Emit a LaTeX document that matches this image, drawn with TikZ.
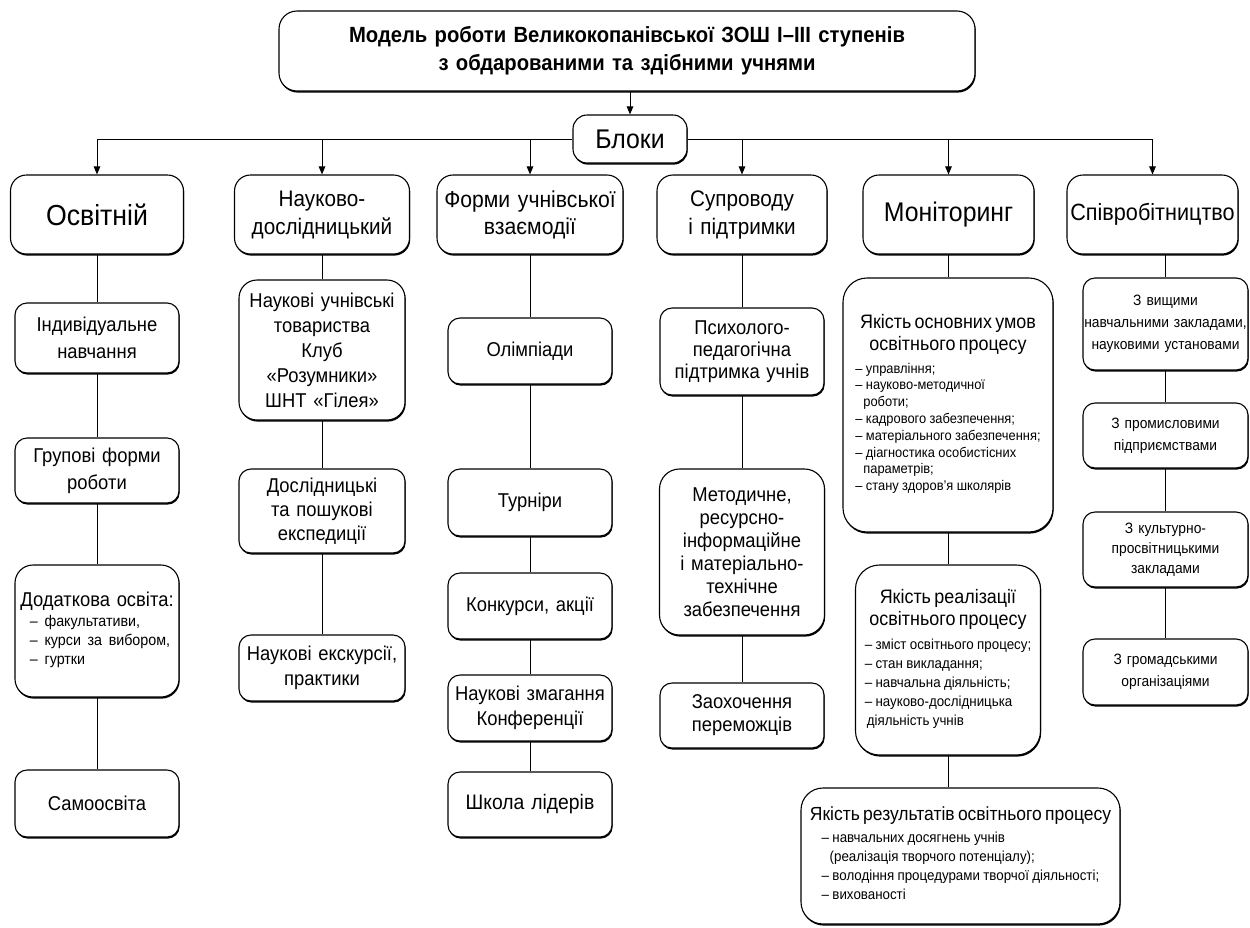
\documentclass[tikz,border=0pt]{standalone}
\usepackage{fontspec}
\setmainfont{Liberation Sans}[FakeStretch=0.92]
\usetikzlibrary{arrows.meta,shadows}
\newcommand\fsz[2]{\fontsize{#1pt}{#2pt}\selectfont}
\begin{document}
\begin{tikzpicture}[x=1pt,y=-1pt,
  box/.style={draw, line width=1.1pt, fill=white, rounded corners=12pt, inner sep=0pt, align=center,
    general shadow={fill=black, shadow xshift=0.7pt, shadow yshift=-1.6pt}},
  topbox/.style={box, rounded corners=16pt, minimum height=79pt},
  sub/.style={box, font=\fsz{20}{24}},
  coop/.style={box, text width=165pt, font=\fsz{15}{22}},
  link/.style={line width=1pt},
  arr/.style={line width=1pt, -{Triangle[length=8pt,width=6.5pt]}},
]
\fill[white] (0,0) rectangle (1250,927);
\useasboundingbox (0,0) rectangle (1250,927);

% title and blocks
\node[box, rounded corners=18pt, text width=696pt, minimum height=80pt, font=\bfseries\fsz{22}{28}] (title) at (627,51)
  {Модель роботи Великокопанівської ЗОШ І–ІІІ ступенів\\з обдарованими та здібними учнями};
\node[box, rounded corners=14pt, text width=114pt, minimum height=48pt, font=\fsz{27}{30}] (blocks) at (630,139) {Блоки};

% level 1
\node[topbox, text width=173pt, font=\fsz{29}{32}] (osv) at (97,214.5) {Освітній};
\node[topbox, text width=175pt, font=\fsz{22.5}{28}] (nauk) at (322,214.5) {Науково-\\дослідницький};
\node[topbox, text width=186pt, font=\fsz{23}{27}] (form) at (530,214.5) {Форми учнівської\\взаємодії};
\node[topbox, text width=170pt, font=\fsz{22.5}{28}] (supr) at (742,214.5) {Супроводу\\і підтримки};
\node[topbox, text width=171pt, font=\fsz{27}{30}] (monit) at (948.5,214.5) {Моніторинг};
\node[topbox, text width=171pt, font=\fsz{23.5}{27}] (spivr) at (1152.5,214.5) {Співробітництво};

% column 1
\node[sub, text width=164pt, minimum height=70pt, font=\fsz{20}{27}] (ind) at (97,338) {Індивідуальне\\навчання};
\node[sub, text width=164pt, minimum height=65pt, font=\fsz{20}{27}] (grup) at (97,470.5) {Групові форми\\роботи};
\node[sub, text width=164pt, minimum height=132pt, rounded corners=18pt] (dod) at (97,631)
  {Додаткова освіта:\\[1pt]{\fsz{15.5}{19}\hspace*{6pt}\begin{tabular}{@{}l@{}}– факультативи,\\– курси за вибором,\\– гуртки\end{tabular}}};
\node[sub, text width=164pt, minimum height=67pt] (samo) at (97,803.5) {Самоосвіта};

% column 2
\node[sub, text width=166pt, minimum height=140pt, rounded corners=18pt, font=\fsz{20}{25}] (nut) at (322,350)
  {Наукові учнівські\\товариства\\Клуб\\«Розумники»\\ШНТ «Гілея»};
\node[sub, text width=166pt, minimum height=84pt] (dosl) at (322,511) {Дослідницькі\\та пошукові\\експедиції};
\node[sub, text width=166pt, minimum height=66pt, font=\fsz{20}{25}] (eksk) at (322,668) {Наукові екскурсії,\\практики};

% column 3
\node[sub, text width=164pt, minimum height=66pt] (olimp) at (530,351) {Олімпіади};
\node[sub, text width=164pt, minimum height=67pt] (turn) at (530,502.5) {Турніри};
\node[sub, text width=164pt, minimum height=66pt] (konk) at (530,606) {Конкурси, акції};
\node[sub, text width=164pt, minimum height=66pt, font=\fsz{20}{25}] (zmag) at (530,708) {Наукові змагання\\Конференції};
\node[sub, text width=164pt, minimum height=65pt, font=\fsz{21}{25}] (shk) at (530,804.5) {Школа лідерів};

% column 4
\node[sub, text width=164pt, minimum height=87pt, font=\fsz{20}{22}] (psych) at (742,351.5) {Психолого-\\педагогічна\\підтримка учнів};
\node[sub, text width=165pt, minimum height=166pt, rounded corners=20pt, font=\fsz{20}{23}] (metod) at (742,552)
  {Методичне,\\ресурсно-\\інформаційне\\і матеріально-\\технічне\\забезпечення};
\node[sub, text width=164pt, minimum height=65pt, font=\fsz{20}{23}] (zaoh) at (742,715.5) {Заохочення\\переможців};

% column 5
\node[box, text width=210pt, minimum height=254pt, rounded corners=24pt] (umov) at (948,405)
  {\fsz{19.5}{22}Якість основних умов\\освітнього процесу\\[6pt]
   {\fsz{14}{16.8}\begin{tabular}{@{}l@{}}– управління;\\– науково-методичної\\\hspace*{8pt}роботи;\\– кадрового забезпечення;\\– матеріального забезпечення;\\– діагностика особистісних\\\hspace*{8pt}параметрів;\\– стану здоров’я школярів\end{tabular}}};
\node[box, text width=185pt, minimum height=190pt, rounded corners=24pt] (real) at (948,660)
  {\fsz{19.5}{22}Якість реалізації\\освітнього процесу\\[6pt]
   {\fsz{14.5}{19}\begin{tabular}{@{}l@{}}– зміст освітнього процесу;\\– стан викладання;\\– навчальна діяльність;\\– науково-дослідницька\\\hspace*{2pt}діяльність учнів\end{tabular}}};
\node[box, text width=319pt, minimum height=136pt, rounded corners=22pt] (rez) at (960.5,856)
  {\fsz{19}{22}Якість результатів освітнього процесу\\[4pt]
   {\fsz{14.5}{19}\begin{tabular}{@{}l@{}}– навчальних досягнень учнів\\\hspace*{8pt}(реалізація творчого потенціалу);\\– володіння процедурами творчої діяльності;\\– вихованості\end{tabular}}};

% column 6
\node[coop, minimum height=92pt] (vyshch) at (1165.5,324) {З вищими\\навчальними закладами,\\науковими установами};
\node[coop, minimum height=65pt] (prom) at (1165.5,435.5) {З промисловими\\підприємствами};
\node[coop, minimum height=75pt, font=\fsz{15}{20}] (kult) at (1165.5,549.5) {З культурно-\\просвітницькими\\закладами};
\node[coop, minimum height=66pt] (hrom) at (1165.5,672) {З громадськими\\організаціями};

% arrows
\draw[arr] (blocks.north |- title.south) -- (blocks.north);
\draw[arr] (blocks.west) -| (osv.north);
\draw[arr] (blocks.west) -| (nauk.north);
\draw[arr] (blocks.west) -| (form.north);
\draw[arr] (blocks.east) -| (supr.north);
\draw[arr] (blocks.east) -| (monit.north);
\draw[arr] (blocks.east) -| (spivr.north);

% links
\draw[link] (osv) -- (ind);
\draw[link] (ind) -- (grup);
\draw[link] (grup) -- (dod);
\draw[link] (dod) -- (samo);
\draw[link] (nauk) -- (nut);
\draw[link] (nut) -- (dosl);
\draw[link] (dosl) -- (eksk);
\draw[link] (form) -- (olimp);
\draw[link] (olimp) -- (turn);
\draw[link] (turn) -- (konk);
\draw[link] (konk) -- (zmag);
\draw[link] (zmag) -- (shk);
\draw[link] (supr) -- (psych);
\draw[link] (psych) -- (metod);
\draw[link] (metod) -- (zaoh);
\draw[link] (umov.north |- monit.south) -- (umov.north);
\draw[link] (umov) -- (real);
\draw[link] (real.south) -- (real.south |- rez.north);
\draw[link] (vyshch.north |- spivr.south) -- (vyshch.north);
\draw[link] (vyshch) -- (prom);
\draw[link] (prom) -- (kult);
\draw[link] (kult) -- (hrom);
\end{tikzpicture}
\end{document}
